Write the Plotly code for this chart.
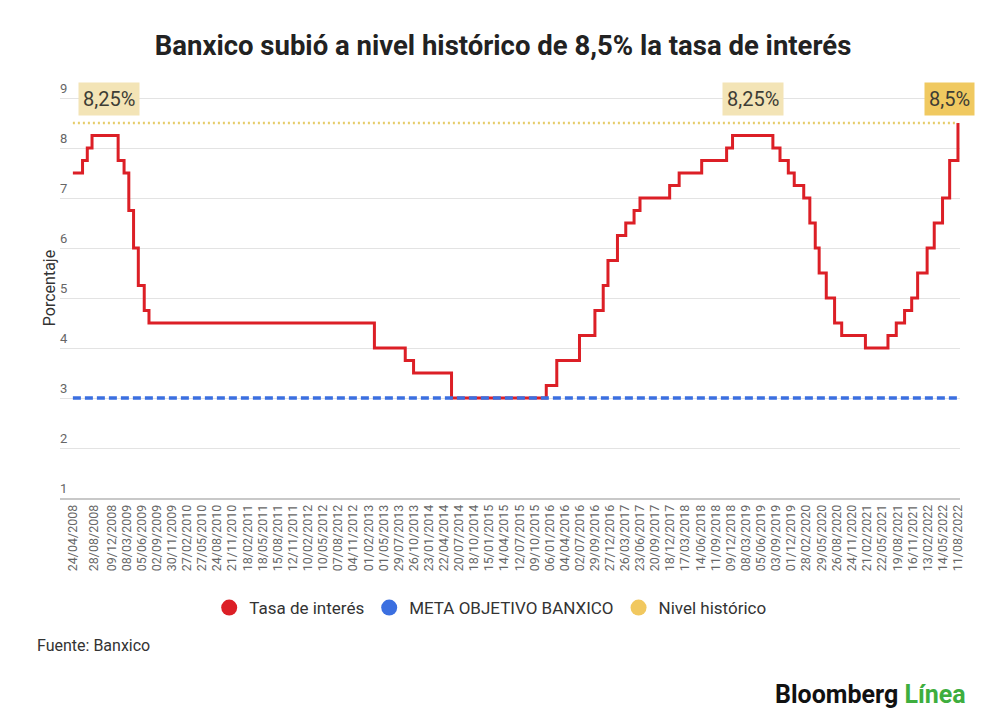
import pandas as pd
import plotly.graph_objects as go

# Tasa objetivo de Banxico: fecha de cada cambio y nivel (%)
rate_dates = [
    "2008-04-24", "2008-06-20", "2008-07-18", "2008-08-15", "2009-01-16", "2009-02-20",
    "2009-03-20", "2009-04-17", "2009-05-15", "2009-06-19", "2009-07-17", "2013-03-08",
    "2013-09-06", "2013-10-25", "2014-06-06", "2015-12-17", "2016-02-17", "2016-06-30",
    "2016-09-29", "2016-11-17", "2016-12-15", "2017-02-09", "2017-03-30", "2017-05-18",
    "2017-06-22", "2017-12-14", "2018-02-08", "2018-06-21", "2018-11-15", "2018-12-20",
    "2019-08-15", "2019-09-26", "2019-11-14", "2019-12-19", "2020-02-13", "2020-03-20",
    "2020-04-21", "2020-05-14", "2020-06-25", "2020-08-13", "2020-09-24", "2021-02-11",
    "2021-06-24", "2021-08-12", "2021-09-30", "2021-11-11", "2021-12-16", "2022-02-10",
    "2022-03-24", "2022-05-12", "2022-06-23", "2022-08-11",
]
rate_values = [
    7.50, 7.75, 8.00, 8.25, 7.75, 7.50,
    6.75, 6.00, 5.25, 4.75, 4.50, 4.00,
    3.75, 3.50, 3.00, 3.25, 3.75, 4.25,
    4.75, 5.25, 5.75, 6.25, 6.50, 6.75,
    7.00, 7.25, 7.50, 7.75, 8.00, 8.25,
    8.00, 7.75, 7.50, 7.25, 7.00, 6.50,
    6.00, 5.50, 5.00, 4.50, 4.25, 4.00,
    4.25, 4.50, 4.75, 5.00, 5.50, 6.00,
    6.50, 7.00, 7.75, 8.50,
]

meta_dates = ["2008-04-24", "2022-08-11"]
meta_values = [3.0, 3.0]

historic_dates = ["2008-04-24", "2022-08-11"]
historic_values = [8.5, 8.5]

# etiquetas del eje x tal como aparecen en el gráfico
tick_labels = [
    "24/04/2008", "28/08/2008", "09/12/2008", "08/03/2009", "05/06/2009", "02/09/2009",
    "30/11/2009", "27/02/2010", "27/05/2010", "24/08/2010", "21/11/2010", "18/02/2011",
    "18/05/2011", "15/08/2011", "12/11/2011", "10/02/2012", "10/05/2012", "07/08/2012",
    "04/11/2012", "01/02/2013", "01/05/2013", "29/07/2013", "26/10/2013", "23/01/2014",
    "22/04/2014", "20/07/2014", "18/10/2014", "15/01/2015", "14/04/2015", "12/07/2015",
    "09/10/2015", "06/01/2016", "04/04/2016", "02/07/2016", "29/09/2016", "27/12/2016",
    "26/03/2017", "23/06/2017", "20/09/2017", "18/12/2017", "17/03/2018", "14/06/2018",
    "11/09/2018", "09/12/2018", "08/03/2019", "05/06/2019", "03/09/2019", "01/12/2019",
    "28/02/2020", "29/05/2020", "26/08/2020", "24/11/2020", "21/02/2021", "22/05/2021",
    "19/08/2021", "16/11/2021", "13/02/2022", "14/05/2022", "11/08/2022",
]
y_ticks = [1, 2, 3, 4, 5, 6, 7, 8, 9]

RED = "#dc1f26"
BLUE = "#3b6fe0"
YELLOW = "#e6cd6b"
YELLOW_DOT = "#f1c85f"
FONT = "Roboto"


def plateau_middle(dates: pd.Series, values: list, level: float, occurrence: int) -> pd.Timestamp:
    """"""

    starts = [i for i, v in enumerate(values) if v == level and (i == 0 or values[i - 1] != level)]
    start = starts[occurrence]
    end = start
    while end + 1 < len(values) and values[end + 1] == level:
        end += 1
    first, last = dates[start], dates[min(end + 1, len(dates) - 1)]
    return first + (last - first) / 2


def value_label(x, y, text: str, color: str, xshift: int = 0, yshift: int = 0) -> dict:
    """"""

    return dict(x=x, y=y, xref="x", yref="y", text=text, showarrow=False,
                font=dict(family=FONT, size=20, color="#3d3d35"),
                bgcolor=color, borderpad=4, xshift=xshift, yshift=yshift)


x_rate = pd.to_datetime(pd.Series(rate_dates))
x_ticks = pd.to_datetime(pd.Series(tick_labels), dayfirst=True)

fig = go.Figure()

fig.add_trace(go.Scatter(x=x_rate, y=rate_values, mode="lines", line_shape="hv",
                         line=dict(color=RED, width=3), showlegend=False, hoverinfo="skip"))
fig.add_trace(go.Scatter(x=pd.to_datetime(historic_dates), y=historic_values, mode="lines",
                         line=dict(color=YELLOW, width=2.5, dash="2px,3px"),
                         showlegend=False, hoverinfo="skip"))
fig.add_trace(go.Scatter(x=pd.to_datetime(meta_dates), y=meta_values, mode="lines",
                         line=dict(color=BLUE, width=3.5, dash="8px,4px"),
                         showlegend=False, hoverinfo="skip"))

# entradas de la leyenda con círculos
for name, color in [("Tasa de interés", RED), ("META OBJETIVO BANXICO", BLUE),
                    ("Nivel histórico", YELLOW_DOT)]:
    fig.add_trace(go.Scatter(x=[None], y=[None], mode="markers", name=name,
                             marker=dict(color=color, size=18, symbol="circle")))

annotations = [
    value_label(plateau_middle(x_rate, rate_values, 8.25, 0), 8.25, "8,25%", "#f3e4b6",
                xshift=4, yshift=37),
    value_label(plateau_middle(x_rate, rate_values, 8.25, 1), 8.25, "8,25%", "#f3e4b6",
                yshift=37),
    value_label(x_rate.iloc[-1], rate_values[-1], "8,5%", "#f0c960", xshift=-8, yshift=24),
    dict(text="Fuente: Banxico", x=-0.028, y=-0.352, xref="paper", yref="paper",
         xanchor="left", yanchor="middle", showarrow=False,
         font=dict(family=FONT, size=16, color="#333333")),
    dict(text="<b>Bloomberg</b> <b><span style='color:#3eae3e'>Línea</span></b>",
         x=1.009, y=-0.469, xref="paper", yref="paper", xanchor="right", yanchor="middle",
         showarrow=False, font=dict(family=FONT, size=25, color="#111111")),
]

# la página añade 8 px de margen: la figura ocupa 992x720
fig.update_layout(
    width=992, height=720,
    margin=dict(l=52, r=40, t=70, b=230),
    paper_bgcolor="white", plot_bgcolor="white",
    title=dict(text="<b>Banxico subió a nivel histórico de 8,5% la tasa de interés</b>",
               x=0.499, xanchor="center", y=1 - 37 / 720, yanchor="middle",
               font=dict(family=FONT, size=27.5, color="#222222")),
    xaxis=dict(type="date", range=["2008-02-08", "2022-08-23"],
               tickvals=x_ticks, ticktext=tick_labels, tickangle=-90,
               tickfont=dict(family=FONT, size=12.5, color="#666666"),
               showgrid=False, showline=True, linecolor="#c8c8c8", linewidth=1.5,
               ticks="", zeroline=False),
    yaxis=dict(range=[1, 9.4], tickvals=y_ticks, ticklabelposition="inside top",
               ticklabelstandoff=-3,
               tickfont=dict(family=FONT, size=13, color="#666666"),
               gridcolor="#e3e3e3", gridwidth=1, zeroline=False, showline=False,
               title=dict(text="Porcentaje", standoff=0,
                          font=dict(family=FONT, size=16, color="#333333"))),
    legend=dict(orientation="h", x=0.478, xanchor="center", y=-0.262, yanchor="middle",
                font=dict(family=FONT, size=17, color="#333333"), itemwidth=30,
                itemclick=False),
    annotations=annotations,
    showlegend=True,
)

fig.write_html("out.html")
